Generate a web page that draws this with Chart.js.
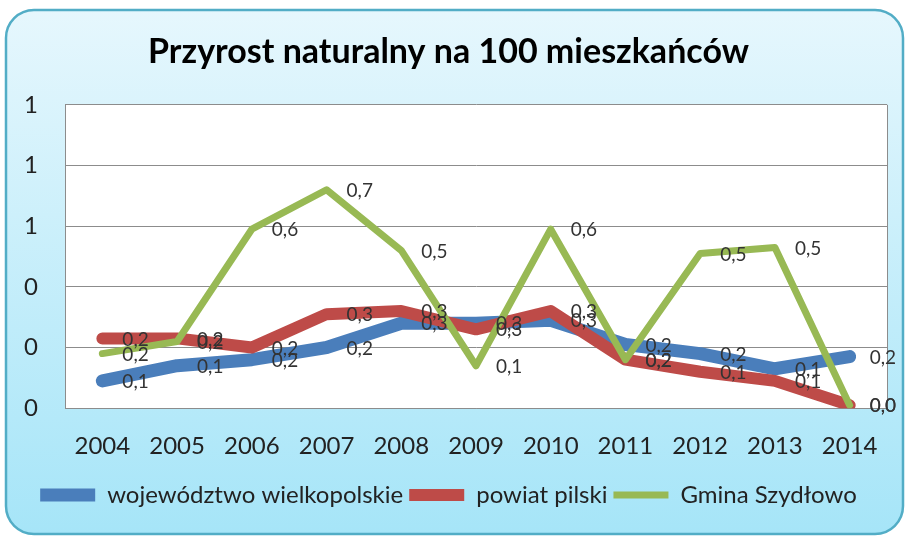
<!DOCTYPE html>
<html>
<head>
<meta charset="utf-8">
<script src="https://cdn.jsdelivr.net/npm/chart.js@4.4.0/dist/chart.umd.min.js"></script>
<style>
html, body { margin: 0; padding: 0; background: #fff; }
</style>
</head>
<body>
<canvas id="przyrost" width="907" height="538"></canvas>
<script>
const lata = ['2004', '2005', '2006', '2007', '2008', '2009', '2010', '2011', '2012', '2013', '2014'];
const wojewodztwo = [0.09, 0.14, 0.16, 0.20, 0.28, 0.28, 0.29, 0.21, 0.18, 0.13, 0.17];
const powiat = [0.23, 0.23, 0.20, 0.31, 0.32, 0.26, 0.32, 0.16, 0.12, 0.09, 0.01];
const gmina = [0.18, 0.22, 0.59, 0.72, 0.52, 0.14, 0.59, 0.16, 0.51, 0.53, 0.01];
const yTicks = [0, 0.2, 0.4, 0.6, 0.8, 1.0];

const fontMain = "Lato, 'Open Sans', sans-serif";

// tlo wykresu: zaokraglony prostokat z gradientem + biale pole wykresu
const tloPlugin = {
    id: 'tlo',
    beforeDraw(chart) {
        const c = chart.ctx;
        const a = chart.chartArea;
        c.save();
        const g = c.createLinearGradient(0, 10, 0, 534);
        g.addColorStop(0, '#e6f7fd');
        g.addColorStop(1, '#a6e5f8');
        c.beginPath();
        c.roundRect(6, 10, 897, 524, 28);
        c.fillStyle = g;
        c.fill();
        c.lineWidth = 2.5;
        c.strokeStyle = '#52adc6';
        c.stroke();
        c.fillStyle = '#ffffff';
        c.fillRect(a.left, a.top, a.right - a.left, a.bottom - a.top);
        c.restore();
    },
    beforeDatasetsDraw(chart) {
        const c = chart.ctx;
        const a = chart.chartArea;
        c.save();
        c.strokeStyle = '#8c8c8c';
        c.lineWidth = 1;
        c.beginPath();
        c.moveTo(a.right + 0.5, a.top);
        c.lineTo(a.right + 0.5, a.bottom);
        c.stroke();
        c.restore();
    }
};

// etykiety danych po prawej stronie punktu
const etykietyPlugin = {
    id: 'etykiety',
    afterDatasetsDraw(chart) {
        const c = chart.ctx;
        c.save();
        c.font = "19px " + fontMain;
        c.fillStyle = '#333333';
        c.textAlign = 'left';
        c.textBaseline = 'middle';
        chart.data.datasets.forEach((ds, i) => {
            const meta = chart.getDatasetMeta(i);
            meta.data.forEach((pt, j) => {
                const txt = ds.data[j].toFixed(1).replace('.', ',');
                c.fillText(txt, pt.x + 20, pt.y + 1);
            });
        });
        c.restore();
    }
};

const ctx = document.getElementById('przyrost').getContext('2d');
const wykres = new Chart(ctx, {
    type: 'line',
    data: {
        labels: lata,
        datasets: [
            {
                label: 'województwo wielkopolskie',
                data: wojewodztwo,
                borderColor: '#4a7ebb',
                backgroundColor: '#4a7ebb',
                borderWidth: 13,
                borderCapStyle: 'round',
                borderJoinStyle: 'round',
                pointRadius: 0,
                order: 3
            },
            {
                label: 'powiat pilski',
                data: powiat,
                borderColor: '#be4b48',
                backgroundColor: '#be4b48',
                borderWidth: 12,
                borderCapStyle: 'round',
                borderJoinStyle: 'round',
                pointRadius: 0,
                order: 2
            },
            {
                label: 'Gmina Szydłowo',
                data: gmina,
                borderColor: '#98b954',
                backgroundColor: '#98b954',
                borderWidth: 7,
                borderCapStyle: 'round',
                borderJoinStyle: 'round',
                pointRadius: 0,
                order: 1
            }
        ]
    },
    options: {
        responsive: false,
        animation: false,
        layout: {
            padding: { top: 12, left: 10, right: 20, bottom: 21 }
        },
        plugins: {
            title: {
                display: true,
                text: 'Przyrost naturalny na 100 mieszkańców',
                color: '#000',
                font: { family: fontMain, size: 34, weight: 'bold' },
                padding: { top: 20, bottom: 32 }
            },
            legend: {
                display: true,
                position: 'bottom',
                labels: {
                    color: '#222',
                    font: { family: fontMain, size: 24 },
                    usePointStyle: true,
                    pointStyle: 'line',
                    pointStyleWidth: 55,
                    padding: 6,
                    sort: (a, b) => a.datasetIndex - b.datasetIndex
                }
            },
            tooltip: { enabled: false }
        },
        scales: {
            x: {
                offset: true,
                grid: { display: false },
                border: { display: true, color: '#8c8c8c' },
                ticks: {
                    color: '#222',
                    font: { family: fontMain, size: 24 },
                    padding: 16,
                    maxRotation: 0
                }
            },
            y: {
                min: 0,
                max: 1,
                afterFit(scale) { scale.width = 55; },
                afterBuildTicks(scale) { scale.ticks = yTicks.map(v => ({ value: v })); },
                grid: { color: '#8c8c8c', drawTicks: false },
                border: { display: true, color: '#8c8c8c' },
                ticks: {
                    color: '#222',
                    font: { family: fontMain, size: 24 },
                    padding: 27,
                    callback: function(value) {
                        return Math.round(value);
                    }
                }
            }
        }
    },
    plugins: [tloPlugin, etykietyPlugin]
});
</script>
</body>
</html>
